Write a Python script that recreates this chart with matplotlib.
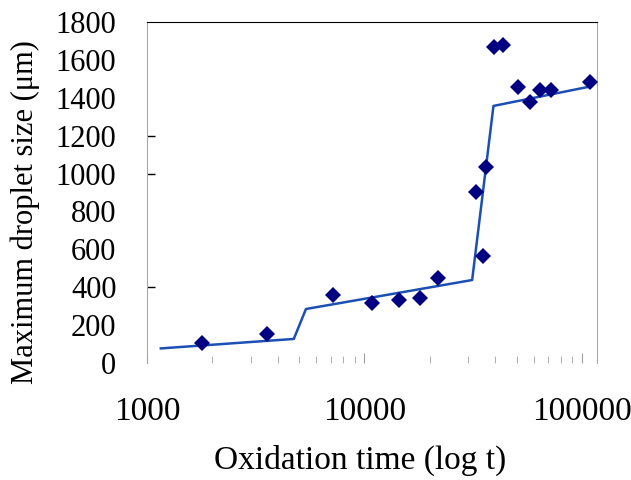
import matplotlib
matplotlib.use('Agg')
import matplotlib.pyplot as plt
from matplotlib.ticker import FixedLocator, NullFormatter

plt.rcParams['font.family'] = ['Liberation Serif', 'DejaVu Serif']

# Measured points (oxidation time, max droplet size)
time_pts = [1790, 3580, 7180, 10770, 14420, 18040, 21720, 32440, 35100, 36100,
            39450, 43550, 50560, 57700, 64100, 72100, 108600]
size_pts = [107, 155, 361, 315, 333, 341, 447, 904, 563, 1036,
            1667, 1679, 1459, 1376, 1441, 1441, 1485]

# Piecewise fit line
time_fit = [1157, 4730, 5380, 31260, 39170, 108600]
size_fit = [77, 127, 285, 438, 1357, 1459]

y_ticks = list(range(0, 1801, 200))
x_major = [1000, 10000, 100000]
x_minor = [m * d for d in (1000, 10000) for m in range(2, 10)]

fig = plt.figure(figsize=(6.31, 4.80), dpi=100)
ax = fig.add_axes([147 / 631, 117 / 480, 450 / 631, 341 / 480])

ax.plot(time_fit, size_fit, '-', color='#1c4fb4', linewidth=1.8, zorder=2)
ax.plot(time_pts, size_pts, 'D', color='#000080', markersize=8.5,
        markeredgewidth=0, zorder=3)

ax.set_xscale('log')
ax.set_xlim(1000, 10 ** 5.069)
ax.set_ylim(0, 1800)

ax.xaxis.set_major_locator(FixedLocator(x_major))
ax.xaxis.set_minor_locator(FixedLocator(x_minor))
ax.xaxis.set_minor_formatter(NullFormatter())
ax.set_xticklabels([str(v) for v in x_major])
ax.tick_params(axis='x', which='major', direction='in', length=7,
               color='#a0a0a0', pad=24, labelsize=24)
ax.tick_params(axis='x', which='minor', direction='in', length=5,
               color='#a0a0a0')

ax.set_yticks(y_ticks)
ax.yaxis.remove_overlapping_locs = False
ax.yaxis.set_minor_locator(FixedLocator([400, 1000, 1200]))
ax.tick_params(axis='y', which='major', length=0, pad=22, labelsize=22)
ax.tick_params(axis='y', which='minor', direction='in', length=6,
               color='black', width=1)

for side in ('left', 'right'):
    ax.spines[side].set_color('#a8a8a8')
ax.spines['top'].set_color('black')
ax.spines['bottom'].set_visible(False)

fig.text(360 / 631, 1 - 460 / 480, 'Oxidation time (log t)', fontsize=24,
         ha='center', va='center')
fig.text(25 / 631, 1 - 212 / 480, 'Maximum droplet size (μm)', fontsize=22,
         ha='center', va='center', rotation=90)

fig.savefig('out.png', dpi=100)
